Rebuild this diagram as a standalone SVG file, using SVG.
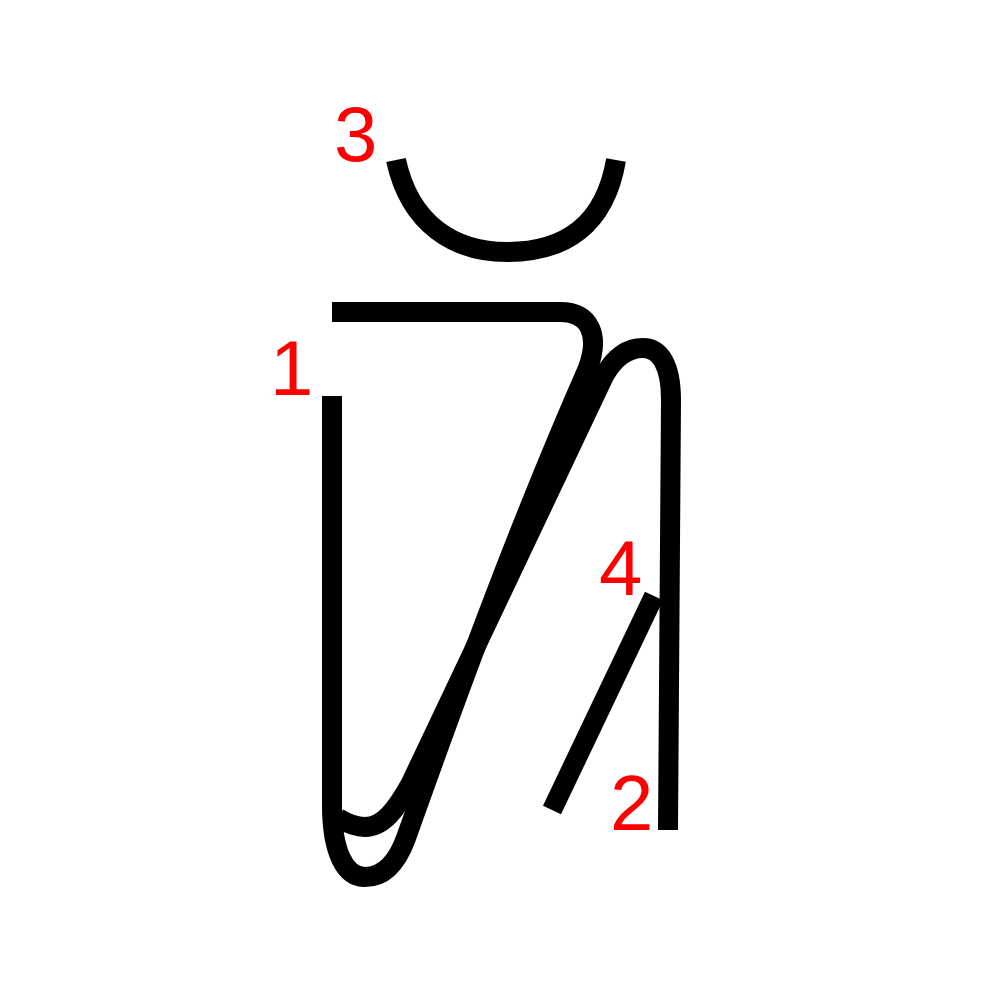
<svg xmlns="http://www.w3.org/2000/svg" width="1000" height="1000" viewBox="0 0 1000 1000">
<style>
.s{fill:none;stroke:#000;stroke-width:20;stroke-linecap:butt;stroke-linejoin:round}
.n{fill:#ff0000;font-family:"Liberation Sans",Arial,sans-serif;font-size:78px}
</style>
<rect width="1000" height="1000" fill="#fff"/>
<g id="stroke1">
<path class="s" d="M332,396 L332,805 C332,852 345,877 365,877 C385,877 398,860 406,838 C463,678 522,518 588,368 C600,335 590,312 560,312 L332,312"/>
</g>
<g id="stroke2">
<path class="s" d="M668,830 L671,400 C671,365 660,348 643,348 C626,348 614,358 604,376 L411,783 C396,810 383,827 365,827 C356,827 348,824 338,818"/>
</g>
<g id="stroke3">
<path class="s" d="M396,160 C410,225 455,252 507,252 C565,252 605,225 616,160"/>
</g>
<g id="stroke4">
<path class="s" d="M654,596 L552,810"/>
</g>
<g id="labels">
<text class="n" x="270" y="395">1</text>
<text class="n" x="610" y="830">2</text>
<text class="n" x="334" y="161">3</text>
<text class="n" x="599" y="595">4</text>
</g>
</svg>
